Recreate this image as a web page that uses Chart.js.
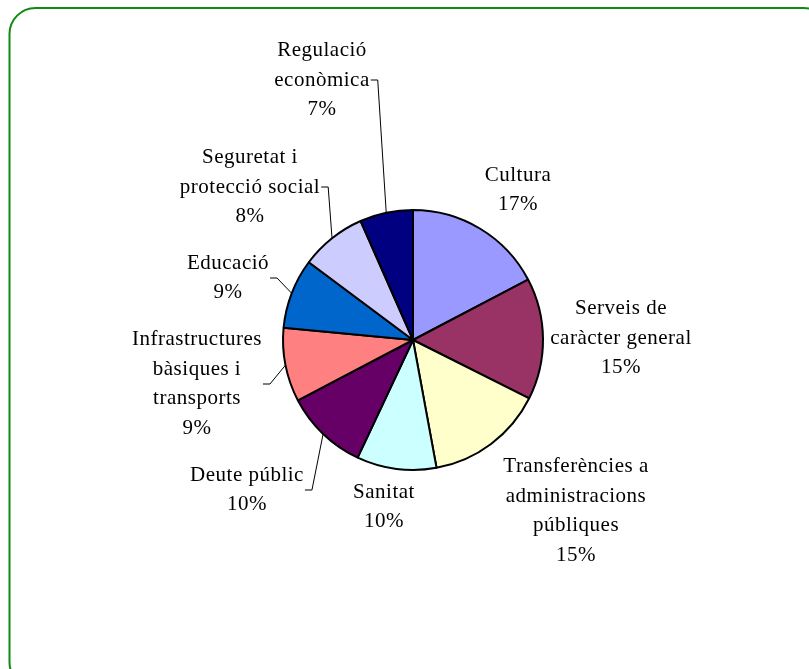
<!DOCTYPE html>
<html lang="ca">
<head>
    <meta charset="UTF-8">
    <title>Distribució de la despesa</title>
    <style>
        body {
            margin: 0;
            background: #ffffff;
        }
        canvas {
            display: block;
        }
    </style>
</head>
<body>
    <canvas id="pieChart" width="809" height="669"></canvas>

    <script src="https://cdn.jsdelivr.net/npm/chart.js"></script>
    <script>
        // dades llegides del gràfic (percentatge de cada partida)
        const categories = [
            'Cultura',
            'Serveis de caràcter general',
            'Transferències a administracions públiques',
            'Sanitat',
            'Deute públic',
            'Infrastructures bàsiques i transports',
            'Educació',
            'Seguretat i protecció social',
            'Regulació econòmica'
        ];
        const values = [17.3, 15.1, 14.7, 9.9, 10.3, 9.2, 8.7, 8.2, 6.6];

        // com es trenquen les etiquetes en línies
        const labelLines = [
            ['Cultura'],
            ['Serveis de', 'caràcter general'],
            ['Transferències a', 'administracions', 'públiques'],
            ['Sanitat'],
            ['Deute públic'],
            ['Infrastructures', 'bàsiques i', 'transports'],
            ['Educació'],
            ['Seguretat i', 'protecció social'],
            ['Regulació', 'econòmica']
        ];

        const sliceColors = ['#9999FF', '#993366', '#FFFFCC', '#CCFFFF', '#660066',
                             '#FF8080', '#0066CC', '#CCCCFF', '#000080'];

        // posició de cada etiqueta respecte al centre del pastís
        const labelOffsets = [
            [105, -150], [208, -2], [163, 171], [-29, 167], [-166, 150],
            [-216, 44], [-185, -62], [-163, -153], [-91, -260]
        ];
        const hasLeader = [false, false, false, false, true, true, true, true, true];

        const FONT = '21px "Liberation Serif", "Times New Roman", serif';
        const LINE_H = 29.5;

        // marc verd arrodonit
        const framePlugin = {
            id: 'frame',
            beforeDraw(chart) {
                const ctx = chart.ctx;
                ctx.save();
                ctx.strokeStyle = '#118A11';
                ctx.lineWidth = 2;
                ctx.beginPath();
                ctx.roundRect(9.5, 8, 820, 680, 26);
                ctx.stroke();
                ctx.restore();
            }
        };

        // etiquetes amb línies guia
        const labelPlugin = {
            id: 'sliceLabels',
            afterDraw(chart) {
                const ctx = chart.ctx;
                const arcs = chart.getDatasetMeta(0).data;
                ctx.save();
                ctx.font = FONT;
                ctx.letterSpacing = '0.5px';
                ctx.fillStyle = '#000';
                ctx.textAlign = 'center';
                ctx.textBaseline = 'middle';

                arcs.forEach((arc, i) => {
                    const lines = labelLines[i].concat([Math.round(values[i]) + '%']);
                    const cx = arc.x + labelOffsets[i][0];
                    const cy = arc.y + labelOffsets[i][1];
                    const top = cy - (lines.length - 1) * LINE_H / 2;
                    let maxW = 0;
                    lines.forEach((t, k) => {
                        ctx.fillText(t, cx, top + k * LINE_H);
                        maxW = Math.max(maxW, ctx.measureText(t).width);
                    });

                    if (hasLeader[i]) {
                        const mid = (arc.startAngle + arc.endAngle) / 2;
                        const ex = arc.x + Math.cos(mid) * arc.outerRadius;
                        const ey = arc.y + Math.sin(mid) * arc.outerRadius;
                        const sx = cx + maxW / 2 + 1;
                        ctx.strokeStyle = '#000';
                        ctx.lineWidth = 1;
                        ctx.beginPath();
                        ctx.moveTo(sx, cy);
                        ctx.lineTo(sx + 7, cy);
                        ctx.lineTo(ex, ey);
                        ctx.stroke();
                    }
                });
                ctx.restore();
            }
        };

        const ctx = document.getElementById('pieChart').getContext('2d');
        new Chart(ctx, {
            type: 'pie',
            data: {
                labels: categories,
                datasets: [{
                    data: values,
                    backgroundColor: sliceColors,
                    borderColor: '#000000',
                    borderWidth: 2
                }]
            },
            options: {
                responsive: false,
                animation: false,
                layout: {
                    padding: { left: 282, right: 265, top: 209, bottom: 198 }
                },
                plugins: {
                    legend: { display: false },
                    tooltip: { enabled: false }
                }
            },
            plugins: [framePlugin, labelPlugin]
        });
    </script>
</body>
</html>
